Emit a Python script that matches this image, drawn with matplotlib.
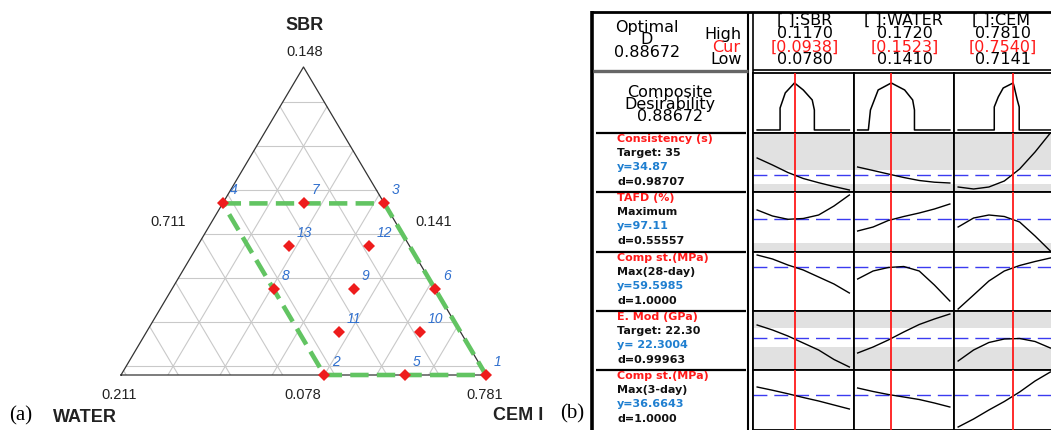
import numpy as np
import matplotlib
matplotlib.use('Agg')
import matplotlib.pyplot as plt

plt.rcParams['font.family'] = ['DejaVu Sans']

W, H = 1051, 430

# ---------------- panel (a): simplex design (actual proportions) ----------------
sbr_lo, water_lo, cem_lo, span = 0.078, 0.141, 0.711, 0.070
sbr_grid = [0.08, 0.09, 0.10, 0.11, 0.12, 0.13, 0.14]
water_grid = [0.15, 0.16, 0.17, 0.18, 0.19, 0.20, 0.21]
cem_grid = [0.72, 0.73, 0.74, 0.75, 0.76, 0.77, 0.78]

pt_ids = [1, 2, 3, 4, 5, 6, 7, 8, 9, 10, 11, 12, 13]
pt_sbr = [0.078, 0.078, 0.117, 0.117, 0.078, 0.0975, 0.117, 0.0975, 0.0975, 0.08775, 0.08775, 0.10725, 0.10725]
pt_water = [0.141, 0.172, 0.141, 0.172, 0.1565, 0.141, 0.1565, 0.172, 0.1565, 0.14875, 0.16425, 0.14875, 0.16425]
pt_cem = [0.781, 0.750, 0.742, 0.711, 0.7655, 0.7615, 0.7265, 0.7305, 0.746, 0.7635, 0.748, 0.744, 0.7285]
region_order = [4, 3, 1, 2, 4]

# ---------------- panel (b): optimization plot ----------------
factors = ['SBR', 'WATER', 'CEM']
f_high = ['0.1170', '0.1720', '0.7810']
f_cur = [0.0938, 0.1523, 0.7540]
f_low = [0.0780, 0.1410, 0.7141]
f_hi_val = [0.1170, 0.1720, 0.7810]

x_sbr = [0.078, 0.0845, 0.091, 0.0975, 0.104, 0.1105, 0.117]
x_water = [0.141, 0.1462, 0.1513, 0.1565, 0.1617, 0.1668, 0.172]
x_cem = [0.7141, 0.7253, 0.7364, 0.7476, 0.7587, 0.7699, 0.781]

comp_x_sbr = [0.078, 0.0877, 0.0877, 0.0899, 0.0938, 0.0975, 0.1013, 0.1022, 0.1022, 0.117]
comp_d_sbr = [0, 0, 0.415, 0.70, 0.887, 0.755, 0.566, 0.377, 0, 0]
comp_x_water = [0.141, 0.1446, 0.1453, 0.1479, 0.1523, 0.1568, 0.1595, 0.1601, 0.1601, 0.172]
comp_d_water = [0, 0, 0.377, 0.755, 0.887, 0.755, 0.566, 0.377, 0, 0]
comp_x_cem = [0.7141, 0.7403, 0.7403, 0.7432, 0.7468, 0.7540, 0.7548, 0.7570, 0.7584, 0.7584, 0.781]
comp_d_cem = [0, 0, 0.434, 0.623, 0.792, 0.887, 0.811, 0.566, 0.434, 0, 0]
D_opt = 0.88672

consistency_sbr = [52, 45, 37.5, 31.5, 27.3, 23.5, 20]
consistency_water = [43, 39.5, 36, 32.5, 29.5, 27.8, 27]
consistency_cem = [23, 21, 23, 29, 41, 58, 77]
tafd_sbr = [98.0, 97.4, 97.07, 97.15, 97.5, 98.4, 99.5]
tafd_water = [95.9, 96.3, 96.95, 97.35, 97.7, 98.1, 98.6]
tafd_cem = [96.3, 97.2, 97.5, 97.35, 96.8, 95.4, 93.9]
comp28_sbr = [65.6, 63.6, 60.6, 58.1, 54.6, 51.1, 46.6]
comp28_water = [53.6, 57.6, 59.35, 59.85, 57.6, 50.6, 42.6]
comp28_cem = [38.6, 45.6, 52.6, 57.6, 60.35, 62.35, 64.1]
emod_sbr = [24.9, 23.9, 22.7, 21.3, 19.9, 18.0, 16.5]
emod_water = [19.3, 20.5, 21.9, 23.5, 25.0, 26.1, 27.1]
emod_cem = [17.7, 19.9, 21.4, 22.1, 22.2, 21.6, 20.3]
comp3_sbr = [39.9, 38.6, 37.2, 35.7, 34.3, 32.7, 31.1]
comp3_water = [39.5, 38.1, 36.9, 35.9, 34.9, 33.5, 31.9]
comp3_cem = [23.9, 27.1, 30.7, 34.1, 37.9, 42.3, 45.9]

resp_names = ['Consistency (s)', 'TAFD (%)', 'Comp st.(MPa)', 'E. Mod (GPa)', 'Comp st.(MPa)']
resp_goals = ['Target: 35', 'Maximum', 'Max(28-day)', 'Target: 22.30', 'Max(3-day)']
resp_ytxt = ['y=34.87', 'y=97.11', 'y=59.5985', 'y= 22.3004', 'y=36.6643']
resp_dtxt = ['d=0.98707', 'd=0.55557', 'd=1.0000', 'd=0.99963', 'd=1.0000']
resp_cur = [34.87, 97.11, 59.5985, 22.3004, 36.6643]
resp_ylim = [(18, 77), (93.8, 99.8), (37.6, 67.1), (15.9, 27.7), (22.7, 46.7)]
resp_band = [(26, 40), (94.7, None), (None, None), (20.5, 24.3), (None, None)]
resp_curves = [
    [consistency_sbr, consistency_water, consistency_cem],
    [tafd_sbr, tafd_water, tafd_cem],
    [comp28_sbr, comp28_water, comp28_cem],
    [emod_sbr, emod_water, emod_cem],
    [comp3_sbr, comp3_water, comp3_cem],
]


def box(x0, y0, x1, y1):
    # pixel box (top-left origin) -> figure fraction rect
    return [x0 / W, 1 - y1 / H, (x1 - x0) / W, (y1 - y0) / H]


def tern(sbr, cem):
    s = (np.asarray(sbr, float) - sbr_lo) / span
    c = (np.asarray(cem, float) - cem_lo) / span
    return c + s / 2, s * np.sqrt(3) / 2


fig = plt.figure(figsize=(W / 100, H / 100), dpi=100)

# overlay in pixel units for frame lines and free text
frame = fig.add_axes([0, 0, 1, 1])
frame.set_xlim(0, W)
frame.set_ylim(H, 0)
frame.axis('off')

# ---------- (a) ternary ----------
ax = fig.add_axes(box(121, 67, 486, 375))
ax.set_xlim(0, 1)
ax.set_ylim(0, np.sqrt(3) / 2)
ax.axis('off')

gcol = '#c9c9c9'
for v in sbr_grid:
    s = (v - sbr_lo) / span
    x, y = tern([v, v], [cem_lo, cem_lo + (1 - s) * span])
    ax.plot(x, y, color=gcol, lw=0.8, zorder=1)
for v in water_grid:
    w = (v - water_lo) / span
    x, y = tern([sbr_lo + (1 - w) * span, sbr_lo], [cem_lo, cem_lo + (1 - w) * span])
    ax.plot(x, y, color=gcol, lw=0.8, zorder=1)
for v in cem_grid:
    c = (v - cem_lo) / span
    x, y = tern([sbr_lo + (1 - c) * span, sbr_lo], [v, v])
    ax.plot(x, y, color=gcol, lw=0.8, zorder=1)

ax.plot([0, 1, 0.5, 0], [0, 0, np.sqrt(3) / 2, 0], color='#333333', lw=0.9, zorder=2,
        clip_on=False)

px, py = tern(pt_sbr, pt_cem)
idx = [pt_ids.index(k) for k in region_order]
ax.plot(px[idx], py[idx], color='#62c462', lw=3.3, dashes=(4, 1.8), zorder=4,
        clip_on=False, solid_capstyle='butt', dash_capstyle='butt')
ax.plot(px, py, 'D', color='#ee1c1c', ms=5.8, mew=0, zorder=5, clip_on=False)
for k, x, y in zip(pt_ids, px, py):
    ax.annotate(str(k), (x, y), xytext=(5.5, 9.5), textcoords='offset points',
                ha='left', va='center', fontsize=10, style='italic', color='#2f6fce',
                family='Liberation Sans', zorder=6)

lab = dict(ha='center', va='center', family='Liberation Sans', color='#222222')
frame.text(305, 25, 'SBR', fontsize=13, weight='bold', **lab)
frame.text(305, 52, '0.148', fontsize=10.5, **lab)
frame.text(168, 222, '0.711', fontsize=10.5, **lab)
frame.text(434, 222, '0.141', fontsize=10.5, **lab)
frame.text(119, 395, '0.211', fontsize=10.5, **lab)
frame.text(303, 395, '0.078', fontsize=10.5, **lab)
frame.text(485, 395, '0.781', fontsize=10.5, **lab)
frame.text(85, 417, 'WATER', fontsize=13, weight='bold', **lab)
frame.text(518, 415, 'CEM I', fontsize=13, weight='bold', **lab)
frame.text(21, 416, '(a)', fontsize=15, ha='center', va='center', family='Liberation Serif')
frame.text(572, 414, '(b)', fontsize=15, ha='center', va='center', family='Liberation Serif')

# ---------- (b) optimization plot ----------
col_edges = [753, 853.5, 954, 1054.5]
row_edges = [73, 133, 192, 252, 311, 370, 430]
x_grids = [x_sbr, x_water, x_cem]
comp_x = [comp_x_sbr, comp_x_water, comp_x_cem]
comp_d = [comp_d_sbr, comp_d_water, comp_d_cem]

for r in range(6):
    for j in range(3):
        cax = fig.add_axes(box(col_edges[j], row_edges[r], col_edges[j + 1], row_edges[r + 1]))
        lo, hi = f_low[j], f_hi_val[j]
        m = 0.045 * (hi - lo)
        cax.set_xlim(lo - m, hi + m)
        cax.set_xticks([])
        cax.set_yticks([])
        for sp in cax.spines.values():
            sp.set_linewidth(1.3)
            sp.set_color('black')
        if r == 0:
            cax.set_ylim(-0.057, 1.075)
            cax.plot(comp_x[j], comp_d[j], color='black', lw=1.1)
        else:
            i = r - 1
            y0, y1 = resp_ylim[i]
            cax.set_ylim(y0, y1)
            blo, bhi = resp_band[i]
            if blo is not None:
                cax.axhspan(y0, blo, color='#e1e1e1', lw=0, zorder=0)
            if bhi is not None:
                cax.axhspan(bhi, y1, color='#e1e1e1', lw=0, zorder=0)
            cax.axhline(resp_cur[i], color='#3b3bf0', lw=1.0, dashes=(10, 5), zorder=1)
            cax.plot(x_grids[j], resp_curves[i][j], color='black', lw=1.0, zorder=2)
        cax.axvline(f_cur[j], color='#ff1a1a', lw=1.3, zorder=3)

# frame lines
fl = dict(color='black', solid_capstyle='butt')
frame.plot([592, 592], [10.5, 430], lw=2.6, **fl)
frame.plot([590.5, 1051], [12, 12], lw=2.0, **fl)
frame.plot([748, 748], [12, 430], lw=1.5, **fl)
frame.plot([752.5, 752.5], [12, 430], lw=1.2, **fl)
frame.plot([753, 1051], [70, 70], lw=1.2, **fl)
frame.plot([593, 748], [71, 71], lw=2.4, color='#666666', solid_capstyle='butt')
for yy in row_edges[1:-1]:
    frame.plot([596, 746], [yy, yy], lw=1.6, **fl)

# header text
fs = 11.5
frame.text(647, 40, f'Optimal\nD\n{D_opt:.5f}', ha='center', va='center', fontsize=fs,
           linespacing=0.8)
frame.text(742, 34, 'High', ha='right', va='center', fontsize=fs)
frame.text(740, 47, 'Cur', ha='right', va='center', fontsize=fs, color='#ff1a1a')
frame.text(742, 60, 'Low', ha='right', va='center', fontsize=fs)
col_cx = [805, 905, 1003]
hdr_cx = [805, 903, 1001]
hdr = dict(ha='center', va='center', fontsize=fs)
for j in range(3):
    frame.text(hdr_cx[j], 20, f'[ ]:{factors[j]}', **hdr)
    frame.text(col_cx[j], 34, f_high[j], **hdr)
    frame.text(col_cx[j], 47, f'[{f_cur[j]:.4f}]', color='#ff1a1a', **hdr)
    frame.text(col_cx[j], 60, f'{f_low[j]:.4f}', **hdr)

frame.text(670, 104.5, f'Composite\nDesirability\n{D_opt:.5f}', ha='center', va='center',
           fontsize=fs, linespacing=0.78)

# response labels
offs = [6, 20, 34, 49]
for i in range(5):
    top = row_edges[i + 1]
    tx = dict(ha='left', va='center', fontsize=8, weight='bold')
    frame.text(617, top + offs[0], resp_names[i], color='#ff1a1a', **tx)
    frame.text(617, top + offs[1], resp_goals[i], color='#111111', **tx)
    frame.text(617, top + offs[2], resp_ytxt[i], color='#1f7fd0', **tx)
    frame.text(617, top + offs[3], resp_dtxt[i], color='#111111', **tx)

fig.savefig('out.png', dpi=100)
plt.close(fig)
